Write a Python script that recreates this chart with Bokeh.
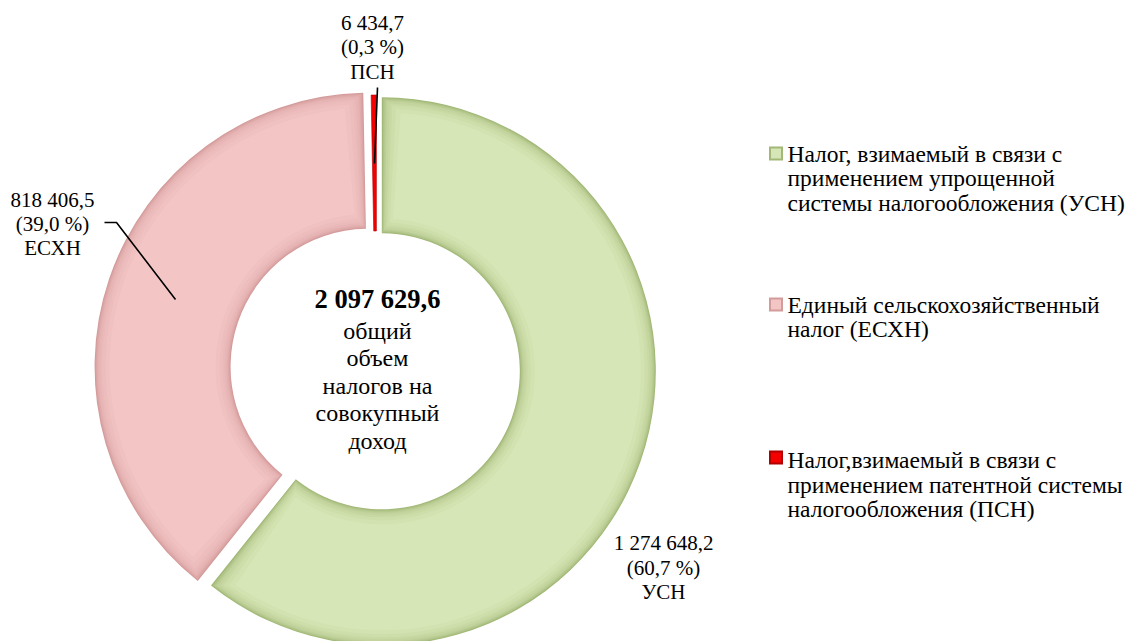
import math
from bokeh.plotting import figure
from bokeh.models import Range1d
from bokeh.core.properties import value
from bokeh.embed import file_html
from bokeh.resources import INLINE

# ---------------- data ----------------
categories = ["УСН", "ЕСХН", "ПСН"]
values = [1274648.2, 818406.5, 6434.7]
value_labels = ["1 274 648,2", "818 406,5", "6 434,7"]
share_labels = ["(60,7 %)", "(39,0 %)", "(0,3 %)"]
legend_labels = [
    ["Налог, взимаемый в связи с", "применением упрощенной", "системы налогообложения (УСН)"],
    ["Единый сельскохозяйственный", "налог (ЕСХН)"],
    ["Налог,взимаемый в связи с", "применением патентной системы", "налогообложения (ПСН)"],
]
total_label = "2 097 629,6"
center_lines = ["общий", "объем", "налогов на", "совокупный", "доход"]

# ---------------- style ----------------
face_colors = ["#d7e6b6", "#f3c5c5", "#f40000"]
edge_colors = ["#a2b877", "#d49b9b", "#b00000"]
explode = [7, 7, 0]
FONT = value("Times, Tinos, DejaVu Serif")

W, H = 1140, 641


def Y(py):
    return H - py


p = figure(width=W, height=H, output_backend="svg", toolbar_location=None,
           x_range=Range1d(0, W), y_range=Range1d(0, H),
           x_axis_location=None, y_axis_location=None,
           min_border=0, min_border_left=0, min_border_right=0,
           min_border_top=0, min_border_bottom=0)
p.grid.visible = False
p.outline_line_color = None
p.background_fill_color = "white"
p.border_fill_color = "white"


def mix(c1, c2, t):
    a = [int(c1[i:i + 2], 16) for i in (1, 3, 5)]
    b = [int(c2[i:i + 2], 16) for i in (1, 3, 5)]
    return "#%02x%02x%02x" % tuple(int(round(a[j] + (b[j] - a[j]) * t)) for j in range(3))


cx, cy = 374.7, Y(368.5)
R, r0 = 274.0, 138.0
total = sum(values)
cum = 0.0
insets = [0, 1, 2, 3, 4, 6, 8, 11, 15]
for i, v in enumerate(values):
    a1 = math.pi / 2 - 2 * math.pi * cum / total
    cum += v
    a0 = math.pi / 2 - 2 * math.pi * cum / total
    mid = (a0 + a1) / 2
    x = cx + explode[i] * math.cos(mid)
    y = cy + explode[i] * math.sin(mid)
    if (a1 - a0) * r0 < 40:
        p.annular_wedge(x=[x + 1.2], y=[y], inner_radius=r0, outer_radius=R,
                        start_angle=a0, end_angle=a1, direction="anticlock",
                        fill_color=face_colors[i], line_color=edge_colors[i], line_width=0.6)
        continue
    n = len(insets)
    for j, k in enumerate(insets):
        t = (j / (n - 1)) ** 0.7
        da = k / ((r0 + R) / 2)
        p.annular_wedge(x=[x], y=[y], inner_radius=r0 + k, outer_radius=R - k,
                        start_angle=a0 + da, end_angle=a1 - da, direction="anticlock",
                        fill_color=mix(edge_colors[i], face_colors[i], t), line_color=None)

# ---------------- data labels ----------------
label_pos = [(663, [542, 567, 591]), (52, [199, 223, 247]), (372, [22, 46.5, 71])]
for i, (lx, ys) in enumerate(label_pos):
    txts = [value_labels[i], share_labels[i], categories[i]]
    p.text(x=[lx] * 3, y=[Y(v) for v in ys], text=txts, text_font=FONT,
           text_font_size="21px", text_align="center", text_baseline="middle",
           text_color="black")

# leader lines
p.line(x=[377, 374], y=[Y(87), Y(163)], line_color="black", line_width=1.6)
p.line(x=[104, 116, 175], y=[Y(222), Y(222), Y(299)], line_color="black", line_width=1.6)

# ---------------- centre text ----------------
p.text(x=[377], y=[Y(298)], text=[total_label], text_font=FONT, text_font_size="26.5px",
       text_font_style="bold", text_align="center", text_baseline="middle", text_color="black")
cys = [330, 357.5, 385, 412.5, 440]
p.text(x=[377] * len(center_lines), y=[Y(v) for v in cys], text=center_lines, text_font=FONT,
       text_font_size="24px", text_align="center", text_baseline="middle", text_color="black")

# ---------------- legend ----------------
leg_y = [[153, 177.5, 202], [304, 328.5], [459, 484, 508.5]]
mark_y = [153, 304, 457]
for i, lines in enumerate(legend_labels):
    my = Y(mark_y[i])
    p.rect(x=[775.5], y=[my], width=14, height=14, fill_color=edge_colors[i], line_color=None)
    p.rect(x=[775.5], y=[my], width=10, height=10, fill_color=face_colors[i], line_color=None)
    p.text(x=[787] * len(lines), y=[Y(v) for v in leg_y[i]], text=lines, text_font=FONT,
           text_font_size="23.5px", text_align="left", text_baseline="middle", text_color="black")

open("out.html", "w").write(file_html(p, INLINE))
